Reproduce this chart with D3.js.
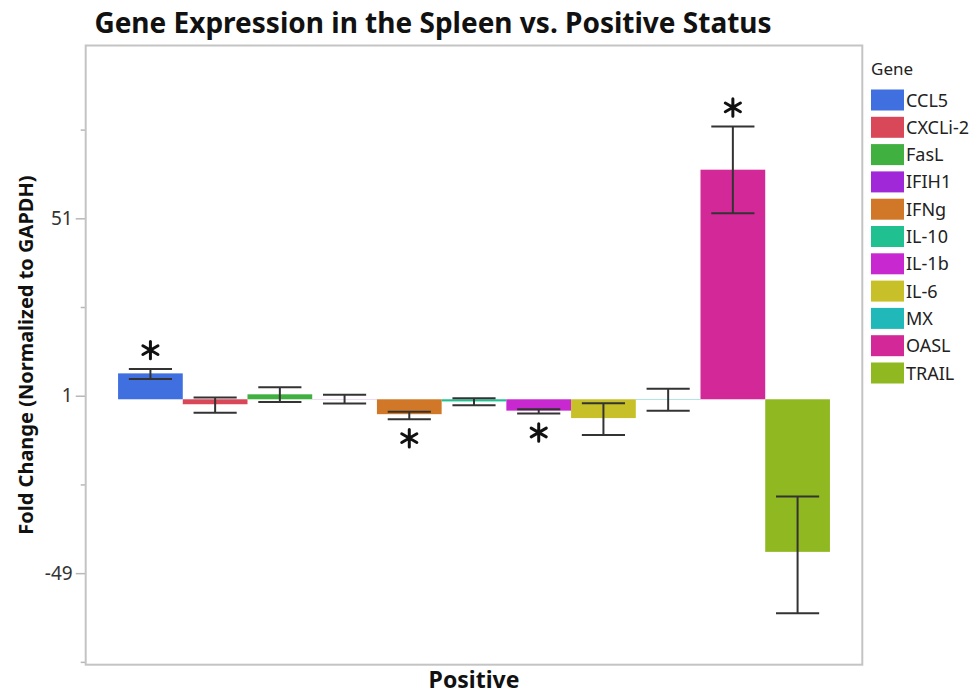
<!DOCTYPE html>
<html>
<head>
<meta charset="utf-8">
<style>
  body { margin: 0; background: #fff; }
  text { font-family: "Noto Sans", sans-serif; }
  .frame { fill: none; stroke: #c4c4c4; stroke-width: 2px; }
  .axis path.domain { display: none; }
  .axis line { stroke: #b8b8b8; stroke-width: 1.5px; }
  .axis text { font-size: 19px; fill: #333; }
  .err { stroke: #333; stroke-width: 2px; fill: none; }
  .star { stroke: #111; stroke-width: 3px; stroke-linecap: round; fill: none; }
  .legend text { font-size: 18px; fill: #222; }
</style>
</head>
<body>
<svg id="chart" width="977" height="696"></svg>
<script src="https://cdn.jsdelivr.net/npm/d3@7"></script>
<script>
// values
const genes = ["CCL5", "CXCLi-2", "FasL", "IFIH1", "IFNg", "IL-10", "IL-1b", "IL-6", "MX", "OASL", "TRAIL"];
const means = [7.3, -1.4, 1.4, 0.05, -4.2, -0.6, -3.2, -5.3, -0.1, 64.7, -43.0];
const errLow = [5.7, -3.8, -0.8, -1.2, -5.6, -1.7, -4.0, -10.1, -3.2, 52.4, -60.3];
const errHigh = [8.5, 0.5, 3.4, 1.3, -3.5, 0.3, -2.8, -1.1, 3.0, 76.9, -27.4];
const colors = ["#4070e0", "#d84858", "#40b040", "#a028d8", "#d07828", "#20c090",
                "#c828d0", "#c8c028", "#20b8b8", "#d22898", "#90b820"];
const starred = ["CCL5", "IFNg", "IL-1b", "OASL"];
const majorTicks = [51, 1, -49];
const minorTicks = [76, 26, -24, -74];

const data = genes.map((g, i) => ({
  gene: g, mean: means[i], lo: errLow[i], hi: errHigh[i], color: colors[i]
}));

const svg = d3.select("#chart");
const plotL = 85.7, plotR = 862.3, plotT = 45.5, plotB = 664.7;

const x = d3.scaleBand().domain(genes).range([plotL, plotR]).paddingInner(0).paddingOuter(0.5);
const y = d3.scaleLinear().domain([-74.8, 99.7]).range([plotB, plotT]);

// title
svg.append("text")
  .attr("x", 433).attr("y", 33)
  .attr("text-anchor", "middle")
  .style("font-size", "28px").style("font-weight", "bold").style("fill", "#111")
  .text("Gene Expression in the Spleen vs. Positive Status");

// axes
svg.append("g").attr("class", "axis")
  .attr("transform", "translate(" + plotL + ",0)")
  .call(d3.axisLeft(y).tickValues(majorTicks).tickSize(10).tickPadding(3).tickFormat(d => String(d)));
svg.append("g").attr("class", "axis")
  .attr("transform", "translate(" + plotL + ",0)")
  .call(d3.axisLeft(y).tickValues(minorTicks).tickSize(5).tickFormat(""));

// bars
const cw = x.bandwidth() * 2 / 3;
svg.append("g").selectAll("rect")
  .data(data)
  .enter().append("rect")
  .attr("x", d => x(d.gene))
  .attr("width", x.bandwidth())
  .attr("y", d => y(Math.max(0, d.mean)))
  .attr("height", d => Math.abs(y(d.mean) - y(0)))
  .attr("fill", d => d.color);

// error bars
const eb = svg.append("g").selectAll("g")
  .data(data)
  .enter().append("g").attr("class", "err");
eb.append("line")
  .attr("x1", d => x(d.gene) + x.bandwidth() / 2)
  .attr("x2", d => x(d.gene) + x.bandwidth() / 2)
  .attr("y1", d => y(d.lo)).attr("y2", d => y(d.hi));
eb.append("line")
  .attr("x1", d => x(d.gene) + x.bandwidth() / 2 - cw / 2)
  .attr("x2", d => x(d.gene) + x.bandwidth() / 2 + cw / 2)
  .attr("y1", d => y(d.lo)).attr("y2", d => y(d.lo));
eb.append("line")
  .attr("x1", d => x(d.gene) + x.bandwidth() / 2 - cw / 2)
  .attr("x2", d => x(d.gene) + x.bandwidth() / 2 + cw / 2)
  .attr("y1", d => y(d.hi)).attr("y2", d => y(d.hi));

// significance stars (six-armed asterisk)
const star = d3.symbol().type(d3.symbolAsterisk).size(215);
svg.append("g").selectAll("path")
  .data(data.filter(d => starred.includes(d.gene)))
  .enter().append("path")
  .attr("class", "star")
  .attr("transform", d => "translate(" + (x(d.gene) + x.bandwidth() / 2) + "," +
    (d.mean > 0 ? y(d.hi) - 19 : y(d.lo) + 19) + ")")
  .attr("d", star);

// frame
svg.append("rect").attr("class", "frame")
  .attr("x", plotL).attr("y", plotT)
  .attr("width", plotR - plotL).attr("height", plotB - plotT);

// axis titles
svg.append("text")
  .attr("transform", "translate(33," + (plotT + plotB) / 2 + ") rotate(-90)")
  .attr("text-anchor", "middle")
  .style("font-size", "20px").style("font-weight", "bold").style("fill", "#111")
  .text("Fold Change (Normalized to GAPDH)");

svg.append("text")
  .attr("x", (plotL + plotR) / 2).attr("y", 688)
  .attr("text-anchor", "middle")
  .style("font-size", "23px").style("font-weight", "bold").style("fill", "#111")
  .text("Positive");

// legend
const legend = svg.append("g").attr("class", "legend").attr("transform", "translate(871,0)");
legend.append("text").attr("x", 0).attr("y", 75).style("font-size", "17px").text("Gene");
const row = legend.selectAll("g.row")
  .data(data)
  .enter().append("g").attr("class", "row")
  .attr("transform", (d, i) => "translate(0," + (89.5 + i * 27.3) + ")");
row.append("rect").attr("width", 33).attr("height", 21).attr("fill", d => d.color);
row.append("text").attr("x", 35).attr("y", 17).text(d => d.gene);
</script>
</body>
</html>
